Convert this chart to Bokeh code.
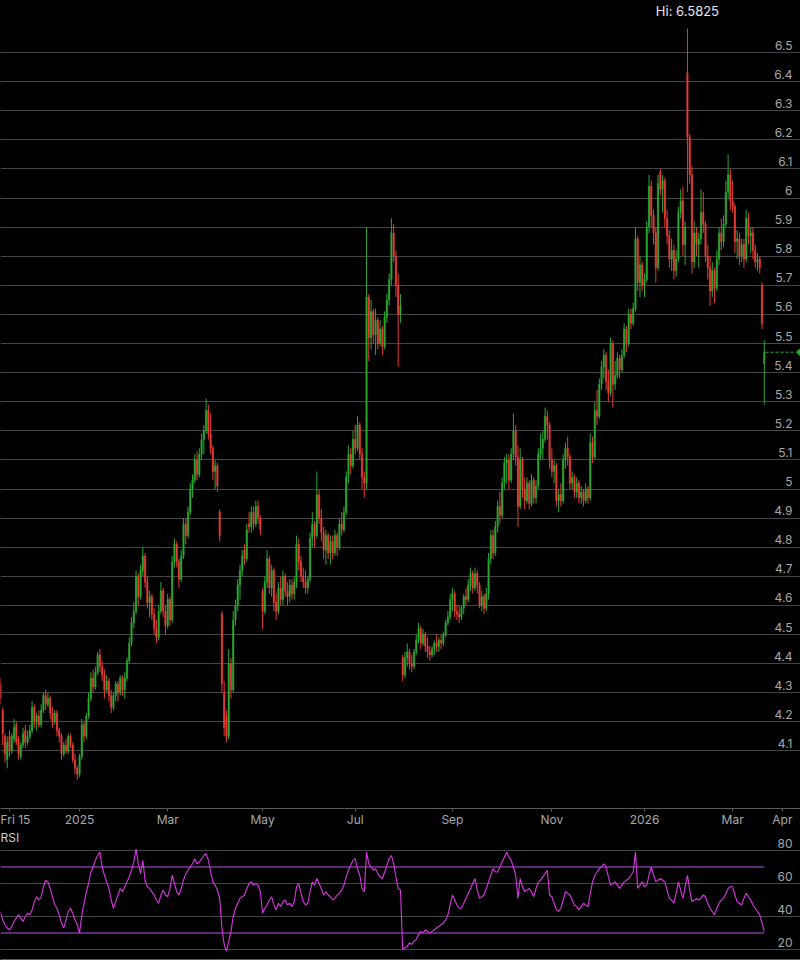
import numpy as np
import pandas as pd
from bokeh.plotting import figure
from bokeh.models import Range1d, FixedTicker, ColumnDataSource, LabelSet, Label, Grid
from bokeh.layouts import column
from bokeh.embed import file_html
from bokeh.resources import INLINE
from bokeh.core.properties import value

# ---------------- data ----------------
FIRST_DAY = "2024-11-11"
HOLIDAYS = ["2024-11-28", "2024-12-25", "2025-01-01", "2025-01-09", "2025-01-20",
            "2025-02-17", "2025-04-18", "2025-05-26", "2025-06-19", "2025-07-04",
            "2025-09-01", "2025-11-27", "2025-12-25", "2026-01-01", "2026-01-19",
            "2026-02-16", "2026-04-03"]

opens = [
    4.33,4.24,4.15,4.07,4.15,4.10,4.14,4.19,4.14,4.08,4.12,4.17,4.13,4.15,
    4.17,4.25,4.20,4.22,4.19,4.24,4.29,4.26,4.28,4.23,4.20,4.23,4.17,4.15,4.09,4.12,4.10,4.15,4.12,4.07,4.04,
    4.02,4.08,4.19,4.15,4.22,4.28,4.35,4.32,4.37,4.43,4.39,4.36,4.31,4.34,4.29,4.25,4.29,4.33,4.30,4.35,
    4.31,4.35,4.41,4.47,4.54,4.58,4.70,4.63,4.72,4.77,4.68,4.61,4.63,4.57,4.52,4.49,4.58,4.65,4.58,
    4.53,4.62,4.55,4.75,4.81,4.75,4.69,4.77,4.88,4.84,4.92,5.00,5.03,5.10,5.05,5.12,5.17,5.20,5.27,5.19,5.14,
    5.06,5.08,4.92,4.57,4.30,4.22,4.15,4.40,4.31,4.55,4.60,4.67,4.72,4.79,4.76,4.88,4.87,4.92,4.88,4.94,4.90,
    4.65,4.58,4.68,4.76,4.66,4.72,4.61,4.58,4.66,4.62,4.70,4.65,4.63,4.67,4.64,4.68,4.81,4.75,4.70,4.68,4.66,
    4.69,4.83,4.88,4.84,4.98,4.90,4.85,4.79,4.84,4.78,4.82,4.78,4.84,4.80,4.88,4.86,4.92,5.04,5.12,5.08,
    5.17,5.14,5.22,5.12,5.04,5.02,5.66,5.52,5.61,5.53,5.58,5.50,5.55,5.49,5.59,5.65,5.72,5.88,5.80,5.70,5.60,4.42,
    4.36,4.42,4.44,4.40,4.39,4.44,4.48,4.52,4.47,4.50,4.46,4.44,4.43,4.45,4.47,4.46,4.48,4.47,4.50,4.54,4.56,
    4.62,4.64,4.58,4.57,4.56,4.59,4.63,4.62,4.67,4.71,4.66,4.71,4.67,4.60,4.63,4.59,4.64,4.76,4.84,4.78,4.87,
    4.94,4.91,5.02,5.09,5.10,5.03,5.12,5.20,5.11,4.94,5.10,5.00,4.96,5.02,4.95,5.03,4.97,5.01,5.12,5.14,5.17,5.25,5.22,
    5.10,5.06,5.08,4.96,4.98,4.96,5.10,5.14,5.11,5.02,5.04,4.99,5.02,4.97,4.99,4.96,5.00,4.97,5.16,
    5.11,5.27,5.25,5.36,5.42,5.46,5.37,5.33,5.50,5.36,5.39,5.45,5.41,5.46,5.55,5.50,5.60,5.57,5.62,5.86,5.71,5.77,
    5.70,5.72,5.90,6.04,5.94,5.88,5.76,6.09,6.03,6.06,5.93,5.87,5.79,5.82,5.75,5.79,5.95,5.99,5.84,6.43,
    6.21,6.08,5.78,5.88,5.84,5.86,5.95,5.91,5.80,5.76,5.68,5.75,5.69,5.79,5.88,5.85,5.91,6.02,6.08,
    5.99,5.97,5.85,5.86,5.80,5.84,5.79,5.93,5.87,5.88,5.82,5.78,5.79,5.70,5.43,
]
highs = [
    4.35,4.25,4.16,4.15,4.17,4.16,4.21,4.20,4.15,4.13,4.18,4.19,4.17,4.19,
    4.27,4.26,4.23,4.24,4.26,4.30,4.31,4.30,4.29,4.25,4.24,4.24,4.18,4.16,4.13,4.14,4.16,4.16,4.13,4.09,4.05,
    4.09,4.21,4.20,4.23,4.30,4.37,4.38,4.39,4.44,4.45,4.41,4.38,4.36,4.35,4.31,4.30,4.34,4.34,4.36,4.36,
    4.37,4.42,4.49,4.56,4.61,4.72,4.71,4.74,4.80,4.78,4.70,4.65,4.64,4.59,4.55,4.60,4.68,4.66,4.60,
    4.64,4.63,4.77,4.83,4.82,4.76,4.79,4.90,4.90,4.94,5.02,5.05,5.12,5.13,5.14,5.19,5.22,5.31,5.29,5.26,5.15,
    5.10,5.09,4.93,4.58,4.34,4.24,4.45,4.42,4.58,4.62,4.69,4.74,4.79,4.81,4.88,4.92,4.94,4.94,4.96,4.96,4.91,
    4.66,4.70,4.79,4.77,4.74,4.73,4.64,4.68,4.70,4.72,4.71,4.68,4.69,4.69,4.70,4.84,4.83,4.77,4.73,4.72,4.70,
    4.85,4.92,4.89,5.06,5.00,4.93,4.87,4.86,4.85,4.84,4.84,4.86,4.85,4.90,4.92,4.94,5.06,5.15,5.14,5.20,
    5.22,5.25,5.23,5.14,5.06,5.90,5.67,5.65,5.62,5.62,5.59,5.58,5.56,5.61,5.67,5.74,5.93,5.91,5.82,5.74,5.67,4.43,
    4.44,4.47,4.45,4.43,4.45,4.50,4.54,4.53,4.52,4.51,4.49,4.46,4.46,4.48,4.50,4.49,4.50,4.51,4.55,4.58,4.64,
    4.66,4.65,4.60,4.60,4.60,4.64,4.66,4.69,4.73,4.72,4.73,4.72,4.68,4.65,4.64,4.66,4.78,4.86,4.86,4.89,4.96,
    4.99,5.04,5.11,5.12,5.12,5.14,5.26,5.22,5.15,5.14,5.11,5.04,5.04,5.03,5.05,5.04,5.03,5.14,5.19,5.20,5.28,5.27,5.23,
    5.14,5.10,5.09,5.00,5.02,5.12,5.16,5.18,5.12,5.06,5.05,5.04,5.03,5.01,5.00,5.02,5.01,5.19,5.18,
    5.30,5.34,5.38,5.44,5.48,5.47,5.41,5.52,5.51,5.44,5.47,5.46,5.48,5.57,5.56,5.62,5.62,5.64,5.90,5.87,5.80,5.78,
    5.74,5.92,6.08,6.06,5.96,5.90,6.08,6.10,6.08,6.07,5.96,5.89,5.86,5.84,5.82,5.97,6.03,6.04,5.92,6.5825,
    6.22,6.11,5.92,5.90,5.88,6.03,6.02,5.92,5.84,5.80,5.78,5.76,5.82,5.90,5.93,5.94,6.06,6.15,6.10,
    6.06,5.98,5.89,5.88,5.86,5.86,5.96,5.95,5.90,5.90,5.84,5.81,5.80,5.71,5.51,
]
lows = [
    4.26,4.12,4.06,4.04,4.08,4.09,4.13,4.12,4.07,4.07,4.11,4.11,4.12,4.14,
    4.16,4.18,4.17,4.18,4.18,4.23,4.24,4.25,4.21,4.18,4.19,4.15,4.13,4.07,4.08,4.09,4.09,4.11,4.06,4.02,4.00,
    4.01,4.07,4.13,4.14,4.21,4.27,4.30,4.31,4.36,4.37,4.34,4.28,4.30,4.27,4.23,4.24,4.27,4.27,4.29,4.29,
    4.28,4.34,4.40,4.46,4.52,4.57,4.60,4.62,4.70,4.66,4.59,4.56,4.55,4.50,4.47,4.48,4.57,4.56,4.50,
    4.52,4.53,4.54,4.73,4.73,4.66,4.68,4.76,4.81,4.83,4.91,4.97,5.02,5.03,5.04,5.10,5.12,5.19,5.17,5.12,5.03,
    5.00,4.99,4.82,4.30,4.15,4.13,4.14,4.28,4.30,4.53,4.58,4.62,4.70,4.74,4.75,4.85,4.85,4.86,4.87,4.88,4.84,
    4.52,4.57,4.66,4.64,4.63,4.58,4.55,4.57,4.60,4.60,4.63,4.60,4.61,4.62,4.62,4.66,4.72,4.68,4.66,4.64,4.64,
    4.68,4.80,4.80,4.83,4.88,4.82,4.76,4.74,4.76,4.74,4.76,4.77,4.77,4.79,4.84,4.85,4.91,5.02,5.05,5.07,
    5.12,5.13,5.10,5.00,4.97,5.00,5.44,5.48,5.50,5.46,5.48,5.49,5.46,5.48,5.57,5.63,5.70,5.78,5.66,5.42,5.57,4.34,
    4.35,4.39,4.38,4.37,4.38,4.43,4.47,4.45,4.46,4.44,4.42,4.41,4.42,4.43,4.44,4.44,4.45,4.46,4.49,4.53,4.55,
    4.58,4.56,4.55,4.54,4.55,4.57,4.60,4.61,4.65,4.64,4.65,4.64,4.59,4.58,4.57,4.58,4.62,4.74,4.76,4.77,4.85,
    4.88,4.90,5.00,5.02,5.00,5.02,5.10,5.08,4.87,4.93,4.97,4.93,4.95,4.93,4.94,4.95,4.95,5.00,5.10,5.10,5.16,5.17,5.07,
    5.04,5.02,4.94,4.92,4.94,4.95,5.07,5.08,5.00,5.00,4.97,4.97,4.95,4.95,4.94,4.95,4.95,4.96,5.09,
    5.10,5.22,5.24,5.34,5.38,5.34,5.30,5.32,5.28,5.34,5.38,5.38,5.40,5.45,5.47,5.49,5.55,5.56,5.61,5.68,5.66,5.68,
    5.66,5.71,5.88,5.90,5.84,5.71,5.75,6.01,5.95,5.90,5.84,5.76,5.75,5.72,5.73,5.78,5.93,5.80,5.77,6.02,
    6.05,5.74,5.76,5.80,5.76,5.84,5.88,5.78,5.72,5.63,5.66,5.64,5.68,5.77,5.82,5.83,5.90,6.00,5.96,
    5.95,5.81,5.79,5.77,5.78,5.76,5.78,5.84,5.81,5.79,5.76,5.75,5.74,5.55,5.29,
]
closes = [
    4.28,4.16,4.09,4.13,4.10,4.15,4.18,4.13,4.09,4.12,4.16,4.13,4.15,4.17,
    4.25,4.20,4.22,4.19,4.24,4.29,4.26,4.28,4.23,4.20,4.23,4.17,4.15,4.09,4.12,4.10,4.15,4.12,4.07,4.04,4.02,
    4.08,4.19,4.15,4.22,4.28,4.35,4.32,4.37,4.43,4.39,4.36,4.31,4.34,4.29,4.25,4.29,4.33,4.30,4.35,4.31,
    4.35,4.41,4.47,4.54,4.58,4.70,4.63,4.72,4.77,4.68,4.61,4.63,4.57,4.52,4.49,4.58,4.65,4.58,4.53,
    4.62,4.55,4.75,4.81,4.75,4.69,4.77,4.88,4.84,4.92,5.00,5.03,5.10,5.05,5.12,5.17,5.20,5.27,5.19,5.14,5.06,
    5.08,5.01,4.84,4.33,4.18,4.15,4.40,4.31,4.55,4.60,4.67,4.72,4.77,4.76,4.86,4.87,4.92,4.88,4.94,4.90,4.86,
    4.58,4.68,4.76,4.66,4.72,4.61,4.58,4.66,4.62,4.70,4.65,4.63,4.67,4.64,4.68,4.81,4.75,4.70,4.68,4.66,4.69,
    4.83,4.88,4.84,4.98,4.90,4.85,4.79,4.84,4.78,4.82,4.78,4.84,4.80,4.88,4.86,4.92,5.04,5.12,5.08,5.17,
    5.14,5.22,5.12,5.04,5.02,5.66,5.52,5.61,5.53,5.58,5.50,5.55,5.49,5.59,5.65,5.72,5.88,5.80,5.70,5.60,5.63,4.36,
    4.42,4.44,4.40,4.39,4.44,4.48,4.52,4.47,4.50,4.46,4.44,4.43,4.45,4.47,4.46,4.48,4.47,4.50,4.54,4.56,4.62,
    4.64,4.58,4.57,4.56,4.59,4.63,4.62,4.67,4.71,4.66,4.71,4.67,4.60,4.63,4.59,4.64,4.76,4.84,4.78,4.87,4.94,
    4.91,5.02,5.09,5.10,5.03,5.12,5.20,5.11,4.94,5.10,5.00,4.96,5.02,4.95,5.03,4.97,5.01,5.12,5.14,5.17,5.25,5.22,5.10,
    5.06,5.08,4.96,4.98,4.96,5.10,5.14,5.11,5.02,5.04,4.99,5.02,4.97,4.99,4.96,5.00,4.97,5.16,5.11,
    5.27,5.25,5.36,5.42,5.46,5.37,5.33,5.50,5.36,5.39,5.45,5.41,5.46,5.55,5.50,5.60,5.57,5.62,5.86,5.71,5.77,5.70,
    5.72,5.90,6.04,5.94,5.88,5.76,6.05,6.03,6.06,5.93,5.87,5.79,5.82,5.75,5.79,5.95,5.99,5.84,5.90,6.21,
    6.08,5.78,5.88,5.84,5.86,5.95,5.91,5.80,5.76,5.68,5.75,5.69,5.79,5.88,5.85,5.91,6.02,6.08,5.99,
    5.97,5.85,5.86,5.80,5.84,5.79,5.93,5.87,5.88,5.82,5.78,5.79,5.76,5.57,5.47,
]
rsi = [
    43,38,35,33,32,34,37,39,41,39,
    37,40,42,41,44,49,52,50,52,58,
    62,61,57,52,47,45,41,36,33,38,
    43,45,42,38,35,30,41,48,55,60,
    67,70,74,77,79,70,65,61,57,50,
    45,49,53,57,55,58,61,64,68,73,
    81,72,66,74,62,58,57,55,53,50,
    48,53,56,53,52,57,65,60,55,53,
    57,62,66,68,70,72,75,72,73,75,
    77,78,74,67,61,59,56,51,33,23,
    19,25,31,40,45,48,51,52,53,57,
    60,61,59,60,59,55,42,45,47,50,
    52,47,44,48,46,49,50,47,48,46,
    49,58,60,54,49,47,48,55,61,59,
    63,60,57,53,55,53,52,50,51,53,
    54,56,59,64,68,71,74,75,69,65,
    57,55,79,72,70,68,69,66,64,63,
    67,71,75,77,72,64,57,56,20,21,
    22,24,23,25,26,29,31,30,32,31,
    30,31,32,33,34,35,36,38,41,47,
    53,50,47,45,45,48,51,54,57,60,
    63,56,51,52,53,57,61,65,69,67,
    67,70,73,76,79,76,74,70,65,51,
    63,58,55,56,57,55,52,57,61,62,
    64,66,68,53,52,48,44,43,45,50,
    55,54,53,50,47,46,44,46,48,47,
    46,54,61,65,67,69,70,72,70,64,
    59,60,61,59,57,59,61,62,63,65,
    67,79,57,59,61,58,59,65,70,65,
    61,62,63,62,61,56,51,50,48,54,
    61,56,51,58,65,56,49,50,51,50,
    51,53,52,48,45,43,41,45,48,50,
    51,54,57,58,58,53,49,48,47,51,
    54,52,50,47,45,43,41,36,31,
]

PRICE_TICKS = [4.1, 4.2, 4.3, 4.4, 4.5, 4.6, 4.7, 4.8, 4.9, 5.0, 5.1, 5.2, 5.3,
               5.4, 5.5, 5.6, 5.7, 5.8, 5.9, 6.0, 6.1, 6.2, 6.3, 6.4, 6.5]
RSI_TICKS = [20, 40, 60, 80]
RSI_BANDS = [30, 70]
XTICK_DATES = ["2024-11-15", "2025-01-02", "2025-03-03", "2025-05-01", "2025-07-01",
               "2025-09-02", "2025-11-03", "2026-01-02", "2026-03-02", "2026-04-01"]
XTICK_LABELS = ["Fri 15", "2025", "Mar", "May", "Jul", "Sep", "Nov", "2026", "Mar", "Apr"]

# ---------------- layout / style ----------------
W = 800
AX1 = 20          # border under the price panel holding the date axis
LABEL_RIGHT = 792
BG = "#000000"
GREEN = "#2aa832"
RED = "#e63c37"
GRID_C = "#444444"
AXIS_C = "#5a5a5a"
TXT = "#a8a8a8"
BAND_C = "#5c2a6e"
RSI_C = "#d936e4"
FONT = "Inter"

cal = pd.bdate_range(FIRST_DAY, "2026-04-30")
cal = cal[~cal.isin(pd.to_datetime(HOLIDAYS))]
n = len(closes)
xi = np.arange(n)
tick_pos = [int(cal.get_loc(pd.Timestamp(d))) for d in XTICK_DATES]

ppc = (644 - 9) / (tick_pos[7] - tick_pos[0])
x0 = tick_pos[0] - 9 / ppc
x1 = x0 + W / ppc

PX = 291.0
H1 = 808
y_top = 6.5 + 52 / PX
y_bot = 6.5 - (H1 - 52) / PX


def base_fig(h, yr, mbb):
    f = figure(frame_width=W, frame_height=h, x_range=xr, y_range=yr,
               y_axis_location=None, output_backend="svg", toolbar_location=None,
               background_fill_color=BG, border_fill_color=BG, outline_line_color=None,
               min_border_left=0, min_border_right=0, min_border_top=0, min_border_bottom=mbb)
    for g in f.grid:
        g.visible = False
    return f


xr = Range1d(x0, x1)
p = base_fig(H1, Range1d(y_bot, y_top), AX1)
p.add_layout(Grid(dimension=1, ticker=FixedTicker(ticks=PRICE_TICKS), grid_line_color=GRID_C))

o = np.array(opens); h = np.array(highs); l = np.array(lows); c = np.array(closes)
colors = np.where(c >= o, GREEN, RED)
src = ColumnDataSource(dict(x=xi, h=h, l=l, top=np.maximum(o, c), bottom=np.minimum(o, c), color=colors))
p.segment("x", "l", "x", "h", source=src, line_color="color", line_width=1)
p.vbar(x="x", width=0.62, top="top", bottom="bottom", source=src,
       fill_color="color", line_color="color", line_width=0.5)

lab_src = ColumnDataSource(dict(y=PRICE_TICKS, t=[f"{v:g}" for v in PRICE_TICKS]))
p.add_layout(LabelSet(x=LABEL_RIGHT, y="y", x_units="screen", text="t", source=lab_src,
                      text_align="right", text_baseline="bottom", y_offset=3,
                      text_color=TXT, text_font_size="12px", text_font=value(FONT)))

hi_i = int(np.argmax(h))
p.add_layout(Label(x=hi_i, y=h[hi_i], text=f"Hi: {h[hi_i]:.4f}", text_align="center",
                   text_baseline="bottom", y_offset=9, text_color="#e8e8e8",
                   text_font_size="13px", text_font=FONT))

last = c[-1]
p.segment(x0=[n - 1 + 0.6], y0=[last], x1=[x1], y1=[last], line_color=GREEN,
          line_dash="3 2", line_width=1)
p.scatter(x=[x1], y=[last], size=6, color=GREEN)

ax = p.xaxis[0]
ax.ticker = FixedTicker(ticks=tick_pos)
ax.major_label_overrides = {t: lab for t, lab in zip(tick_pos, XTICK_LABELS)}
ax.axis_line_color = AXIS_C
ax.major_tick_line_color = AXIS_C
ax.major_tick_out = 3
ax.major_tick_in = 0
ax.minor_tick_line_color = None
ax.major_label_text_color = TXT
ax.major_label_text_font_size = "12px"
ax.major_label_text_font = FONT
ax.major_label_standoff = 0

# ---------------- RSI panel ----------------
T2 = H1 + AX1
H2 = 960 - T2 - 1
rpx = 99 / 60
r_top = 80 + (849 - T2) / rpx
r_bot = r_top - H2 / rpx
p2 = base_fig(H2, Range1d(r_bot, r_top), 0)
p2.xaxis.visible = False
p2.add_layout(Grid(dimension=1, ticker=FixedTicker(ticks=RSI_TICKS), grid_line_color=GRID_C))
for b in RSI_BANDS:
    p2.segment(x0=[x0], y0=[b], x1=[n - 1], y1=[b], line_color=BAND_C, line_width=2)
p2.line(xi, rsi, line_color=RSI_C, line_width=1.1)

# bottom axis line with ticks
r_axis = 80 - (958 - 849) / rpx
p2.segment(x0=[x0], y0=[r_axis], x1=[x1], y1=[r_axis], line_color=AXIS_C, line_width=1)
p2.segment(x0=tick_pos, y0=[r_axis] * len(tick_pos), x1=tick_pos, y1=[r_bot] * len(tick_pos),
           line_color=AXIS_C, line_width=1)

rs_src = ColumnDataSource(dict(y=RSI_TICKS, t=[str(v) for v in RSI_TICKS]))
p2.add_layout(LabelSet(x=LABEL_RIGHT, y="y", x_units="screen", text="t", source=rs_src,
                       text_align="right", text_baseline="bottom", y_offset=3,
                       text_color=TXT, text_font_size="12px", text_font=value(FONT)))
p2.add_layout(Label(x=0, y=r_top, x_units="screen", text="RSI", text_align="left",
                    text_baseline="top", y_offset=0, text_color="#c8c8c8",
                    text_font_size="12px", text_font=FONT))

layout = column(p, p2, spacing=0)

TEMPLATE = """
{% block preamble %}
<style>html, body { background-color: #000000; }</style>
{% endblock %}
"""
try:
    html = file_html(layout, INLINE, title="chart", template=TEMPLATE)
except Exception:
    html = file_html(layout, INLINE, title="chart")
open("out.html", "w").write(html)
